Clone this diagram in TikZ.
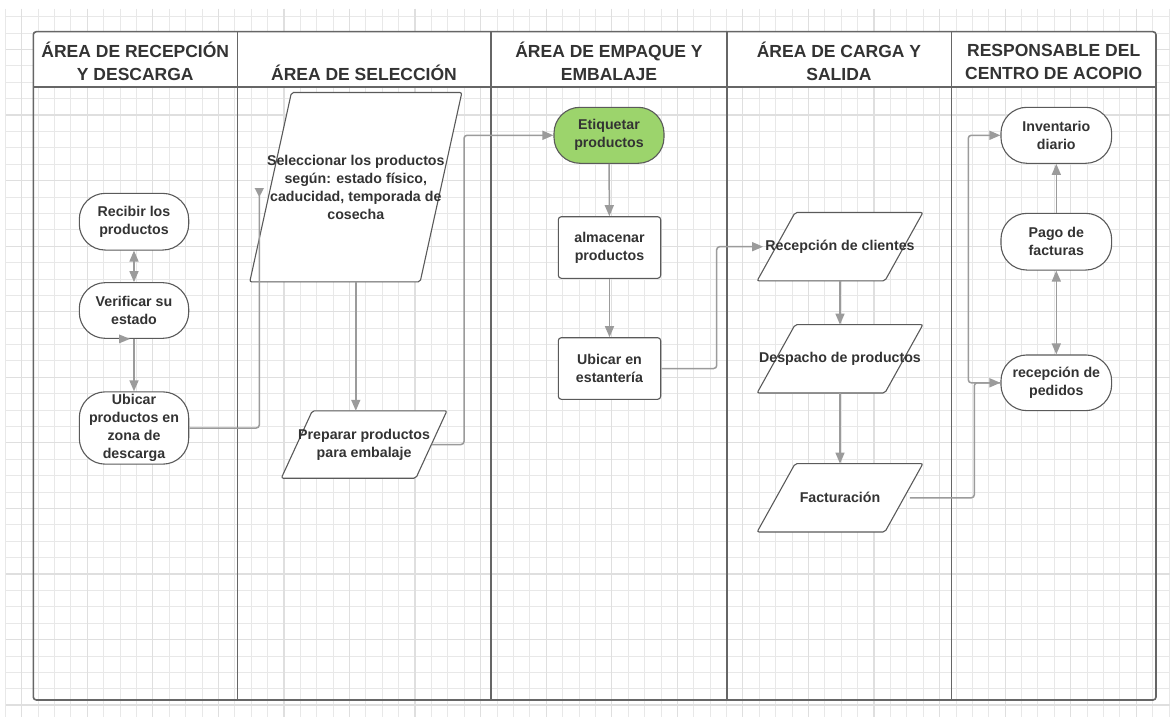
\documentclass[tikz,border=0pt]{standalone}
\usepackage{fontspec}
\setmainfont{Liberation Sans}
\usetikzlibrary{arrows.meta,calc}
\definecolor{txt}{HTML}{333333}
\definecolor{bord}{HTML}{5A5A5A}
\definecolor{lnk}{HTML}{9B9B9B}
\definecolor{lane}{HTML}{666666}
\definecolor{gmin}{HTML}{E8E8E8}
\definecolor{gmaj}{HTML}{DFDFDF}
\definecolor{grn}{RGB}{156,212,108}
\pgfdeclarelayer{gridlayer}
\pgfdeclarelayer{bglayer}
\pgfsetlayers{gridlayer,bglayer,main}
\newcommand\mypara[2]{\begin{pgfonlayer}{bglayer}\filldraw[pshape] ([xshift=#2pt]#1.north west) -- (#1.north east) -- ([xshift=-#2pt]#1.south east) -- (#1.south west) -- cycle;\end{pgfonlayer}}
\tikzset{
  lbl/.style={font=\fontsize{14.2}{18}\selectfont\bfseries, text=txt, align=center, inner sep=0pt},
  hdr/.style={font=\fontsize{17.5}{23}\selectfont\bfseries, text=txt, align=center, inner sep=0pt},
  term/.style={lbl, draw=bord, line width=1.1pt, rounded corners=26pt, fill=white, minimum width=110pt},
  proc/.style={lbl, draw=bord, line width=1.1pt, rounded corners=3pt, fill=white, minimum width=102.4pt, minimum height=61.6pt},
  iobox/.style={lbl},
  pshape/.style={fill=white, draw=bord, line width=1.1pt, rounded corners=2pt},
  tipA/.tip={Triangle[length=11pt,width=9pt]},
  conn/.style={draw=lnk, line width=1.5pt, rounded corners=3pt, -tipA},
  conn2/.style={draw=lnk, line width=1.5pt, tipA-tipA},
  conn0/.style={draw=lnk, line width=1.5pt, rounded corners=3pt},
  gminor/.style={draw=gmin, line width=0.8pt},
  gmajor/.style={draw=gmaj, line width=1.2pt},
  frame/.style={draw=lane, line width=1.6pt},
}
\begin{document}
\begin{tikzpicture}[x=1pt,y=-1pt]
\useasboundingbox (0,0) rectangle (1170,717);
% grid
\begin{pgfonlayer}{gridlayer}
\fill[white] (0,0) rectangle (1170,717);
\foreach \k in {0,...,71} \draw[gminor] ({5.3+16.39*\k},9) -- ({5.3+16.39*\k},717);
\foreach \k in {1,...,43} \draw[gminor] (6,{0.3+16.39*\k}) -- (1170,{0.3+16.39*\k});
\foreach \k in {1,5,...,69} \draw[gmajor] ({5.3+16.39*\k},9) -- ({5.3+16.39*\k},717);
\foreach \k in {3,7,...,43} \draw[gmajor] (6,{0.3+16.39*\k}) -- (1170,{0.3+16.39*\k});
\end{pgfonlayer}
% swimlanes
\begin{pgfonlayer}{bglayer}
\fill[white] (33.3,31.7) rectangle (1156,86.7);
\draw[frame, rounded corners=3pt] (33.3,31.7) rectangle (1156,700);
\draw[frame] (33.3,86.7) -- (1156,86.7);
\foreach \xx in {237.3,490.7,726.7,951.5} \draw[frame] (\xx,31.7) -- (\xx,700);
\end{pgfonlayer}
% headers
\node[hdr] (h1) at (135.3,61.5) {ÁREA DE RECEPCIÓN\\Y DESCARGA};
\node[hdr] (h2) at (364,73.3) {ÁREA DE SELECCIÓN};
\node[hdr] (h3) at (609,61.5) {ÁREA DE EMPAQUE Y\\EMBALAJE};
\node[hdr] (h4) at (839,61.5) {ÁREA DE CARGA Y\\SALIDA};
\node[hdr] (h5) at (1053.7,61.5) {RESPONSABLE DEL\\CENTRO DE ACOPIO};
% lane 1
\node[term, minimum width=109.4pt, minimum height=56.7pt] (recibir) at (134,221.7) {Recibir los\\productos};
\node[term, minimum width=109.4pt, minimum height=55.7pt] (verificar) at (134,310.5) {Verificar su\\estado};
\node[term, minimum width=109.4pt, minimum height=72.3pt] (ubicar) at (134,428) {Ubicar\\productos en\\zona de\\descarga};
% lane 2
\node[iobox, minimum width=211.7pt, minimum height=189pt] (selec) at (355.8,187.2) {Seleccionar los productos\\según: estado físico,\\caducidad, temporada de\\cosecha};
\mypara{selec}{41.7}
\node[iobox, minimum width=165.2pt, minimum height=67pt] (prep) at (364.1,444.5) {Preparar productos\\para embalaje};
\mypara{prep}{31}
% lane 3
\node[term, fill=grn, minimum height=56pt] (etiq) at (609,135.3) {Etiquetar\\productos};
\node[proc] (alm) at (609.5,247.5) {almacenar\\productos};
\node[proc] (ubest) at (609.5,368.5) {Ubicar en\\estantería};
% lane 4
\node[iobox, minimum width=165.4pt, minimum height=68pt] (recep) at (840,246.7) {Recepción de clientes};
\mypara{recep}{38}
\node[iobox, minimum width=165.4pt, minimum height=68pt] (desp) at (840,358.8) {Despacho de productos};
\mypara{desp}{38}
\node[iobox, minimum width=165.4pt, minimum height=68pt] (fact) at (840,497.8) {Facturación};
\mypara{fact}{38}
% lane 5
\node[term, minimum width=110.7pt, minimum height=56pt] (inv) at (1056.3,135.3) {Inventario\\diario};
\node[term, minimum width=110.7pt, minimum height=56.7pt] (pago) at (1056.3,241.7) {Pago de\\facturas};
\node[term, minimum width=110.7pt, minimum height=55.7pt] (rped) at (1056.3,382.8) {recepción de\\pedidos};
% bend coordinates
\coordinate (j1) at (259.3,188);
\coordinate (j2) at (464,300);
\coordinate (j3) at (716.7,300);
\coordinate (j4) at (974.3,440);
\coordinate (j5) at (968.3,250);
% connectors
\draw[conn2] (recibir) -- (verificar);
\draw[conn] (verificar) -- (ubicar);
\fill[lnk] ([xshift=-4pt]verificar.south) -- ([xshift=-15pt,yshift=4.5pt]verificar.south) -- ([xshift=-15pt,yshift=-4.5pt]verificar.south) -- cycle;
\draw[conn0] (ubicar.east) -| (j1);
\fill[lnk] (j1) ++(-4.7,0) -- ++(9.4,0) -- ++(-4.7,9) -- cycle;
\draw[conn] (selec.south) -- (selec.south |- prep.north);
\draw[conn] ([xshift=-15pt]prep.east) -| (j2) |- (etiq.west);
\draw[conn] (etiq) -- (alm);
\draw[conn] (alm) -- (ubest);
\draw[conn] (ubest.east) -| (j3) |- ([xshift=6pt]recep.west);
\draw[conn] (recep.south) -- (desp.north);
\draw[conn] (desp.south) -- (fact.north);
\draw[conn] ([xshift=-13pt]fact.east) -| (j4) |- (rped.west);
\draw[conn] (rped.west) -| (j5) |- (inv.west);
\draw[conn] (pago) -- (inv);
\draw[conn2] (rped) -- (pago);
\end{tikzpicture}
\end{document}
